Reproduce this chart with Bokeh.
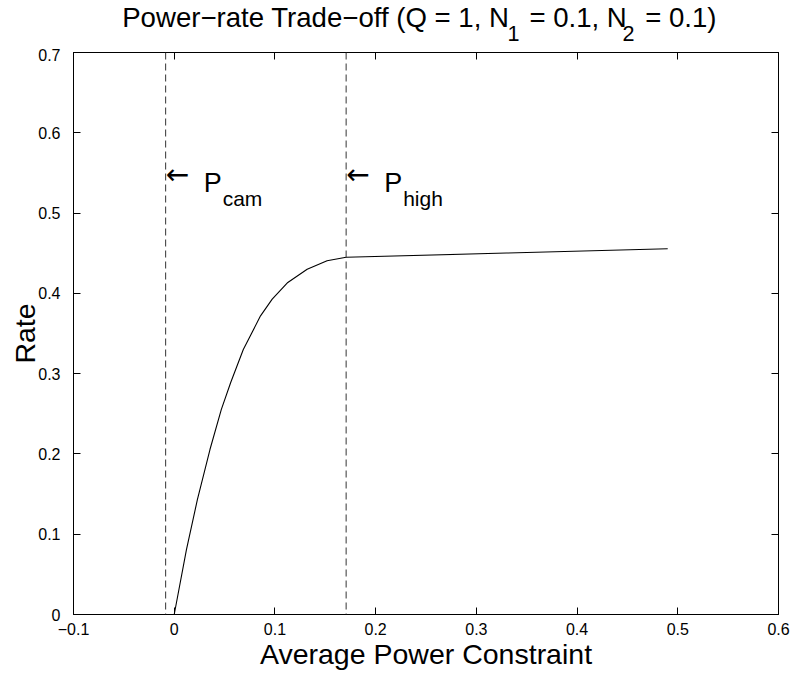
from bokeh.plotting import figure
from bokeh.layouts import column
from bokeh.models import Span, LinearAxis, FixedTicker, ColumnDataSource, Range1d
from bokeh.core.properties import value
from bokeh.embed import file_html
from bokeh.resources import INLINE

# ---- data ----
power = [0.0, 0.0121, 0.023, 0.0355, 0.0468, 0.056, 0.0686, 0.0857, 0.0973,
         0.1128, 0.132, 0.1518, 0.1707, 0.330, 0.490]
rate = [0.0, 0.0806, 0.143, 0.2055, 0.2555, 0.2887, 0.330, 0.372, 0.3928,
        0.4136, 0.430, 0.4406, 0.4449, 0.4502, 0.4556]

p_cam = -0.0085
p_high = 0.1707
marker_x = [p_cam, p_high]
marker_y = [0.55, 0.55]
marker_arrow = ["\u2190", "\u2190"]
marker_main = ["P", "P"]
marker_sub = ["cam", "high"]

x_ticks = [-0.1, 0, 0.1, 0.2, 0.3, 0.4, 0.5, 0.6]
x_tick_labels = ["\u22120.1", "0", "0.1", "0.2", "0.3", "0.4", "0.5", "0.6"]
y_ticks = [0, 0.1, 0.2, 0.3, 0.4, 0.5, 0.6, 0.7]
y_tick_labels = ["0", "0.1", "0.2", "0.3", "0.4", "0.5", "0.6", "0.7"]

title_parts = ["Power\u2212rate Trade\u2212off (Q = 1, N", "1", "= 0.1, N", "2", "= 0.1)"]
title_is_sub = [False, True, False, True, False]

FONT = "Liberation Sans"
W, H = 794, 675
X0, X1, Y0, Y1 = -0.1, 0.6, 0.0, 0.7
ML, MR, MB = 73, 16, 61
HEAD = 48          # header strip holding the title
MT = 4

# ---------- main plot ----------
p = figure(width=W, height=H - HEAD, x_range=Range1d(X0, X1), y_range=Range1d(Y0, Y1),
           output_backend="svg", toolbar_location=None,
           min_border_left=ML, min_border_right=MR, min_border_top=MT, min_border_bottom=MB)
p.grid.visible = False
p.outline_line_color = "black"
p.outline_line_width = 1
p.background_fill_color = "white"
p.border_fill_color = "white"

def style_axis(ax, ticks, labels, show_labels=True):
    ax.ticker = FixedTicker(ticks=ticks)
    ax.major_label_overrides = {t: (l if show_labels else "") for t, l in zip(ticks, labels)}
    ax.major_tick_in = 7
    ax.major_tick_out = 0
    ax.minor_tick_line_color = None
    ax.axis_line_color = "black"
    ax.major_tick_line_color = "black"
    ax.major_label_text_font = FONT
    ax.major_label_text_font_size = "16px"
    ax.major_label_text_color = "black"
    ax.axis_label_text_font = FONT
    ax.axis_label_text_font_size = "28.5px"
    ax.axis_label_text_font_style = "normal"
    ax.axis_label_text_color = "black"

style_axis(p.xaxis[0], x_ticks, x_tick_labels)
style_axis(p.yaxis[0], y_ticks, y_tick_labels)
p.xaxis[0].axis_label = "Average Power Constraint"
p.yaxis[0].axis_label = "Rate"
p.xaxis[0].major_label_standoff = 8
p.xaxis[0].axis_label_standoff = 0
p.yaxis[0].major_label_standoff = 13
p.yaxis[0].axis_label_standoff = -6

top_ax = LinearAxis()
style_axis(top_ax, x_ticks, x_tick_labels, show_labels=False)
top_ax.major_label_text_font_size = "0px"
top_ax.major_label_standoff = 0
p.add_layout(top_ax, "above")
right_ax = LinearAxis()
style_axis(right_ax, y_ticks, y_tick_labels, show_labels=False)
right_ax.major_label_text_font_size = "0px"
right_ax.major_label_standoff = 0
p.add_layout(right_ax, "right")

# dashed markers
for xv in marker_x:
    p.add_layout(Span(location=xv, dimension="height", line_color="#333333",
                      line_width=1, line_dash="7 4"))

# curve
p.line(power, rate, line_color="black", line_width=1.1)

# annotations next to the dashed markers
src = ColumnDataSource(dict(x=marker_x, y=marker_y, arrow=marker_arrow,
                            main=marker_main, sub=marker_sub))
p.text(x="x", y="y", text="arrow", source=src, text_font=value("DejaVu Sans"),
       text_font_size="28px", text_baseline="middle", text_align="left",
       x_offset=0, y_offset=2, text_color="black")
p.text(x="x", y="y", text="main", source=src, text_font=value(FONT),
       text_font_size="27px", text_baseline="alphabetic", text_align="left",
       x_offset=38, y_offset=10, text_color="black")
p.text(x="x", y="y", text="sub", source=src, text_font=value(FONT),
       text_font_size="21px", text_baseline="alphabetic", text_align="left",
       x_offset=57, y_offset=26, text_color="black")

# ---------- header strip with the title ----------
hd = figure(width=W, height=HEAD, x_range=p.x_range, y_range=Range1d(0, HEAD),
            output_backend="svg", toolbar_location=None,
            x_axis_location=None, y_axis_location=None,
            min_border_left=ML, min_border_right=MR, min_border_top=0, min_border_bottom=0)
hd.grid.visible = False
hd.outline_line_color = None
hd.background_fill_color = "white"
hd.border_fill_color = "white"

title_dx = [48.7, 434.0, 455.9, 549.0, 571.7]      # px from frame left
title_top = [17, 33, 17, 33, 17]                    # px from top of strip
tsrc = ColumnDataSource(dict(
    x=[X0] * len(title_parts),
    y=[HEAD - t for t in title_top],
    text=title_parts,
    dx=title_dx,
    size=["21.6px" if s else "27.6px" for s in title_is_sub],
))
hd.text(x="x", y="y", text="text", source=tsrc, x_offset="dx", text_font=value(FONT),
        text_font_size="size", text_baseline="alphabetic", text_align="left",
        text_color="black")

layout = column(hd, p, spacing=0)
open("out.html", "w").write(file_html(layout, INLINE))
